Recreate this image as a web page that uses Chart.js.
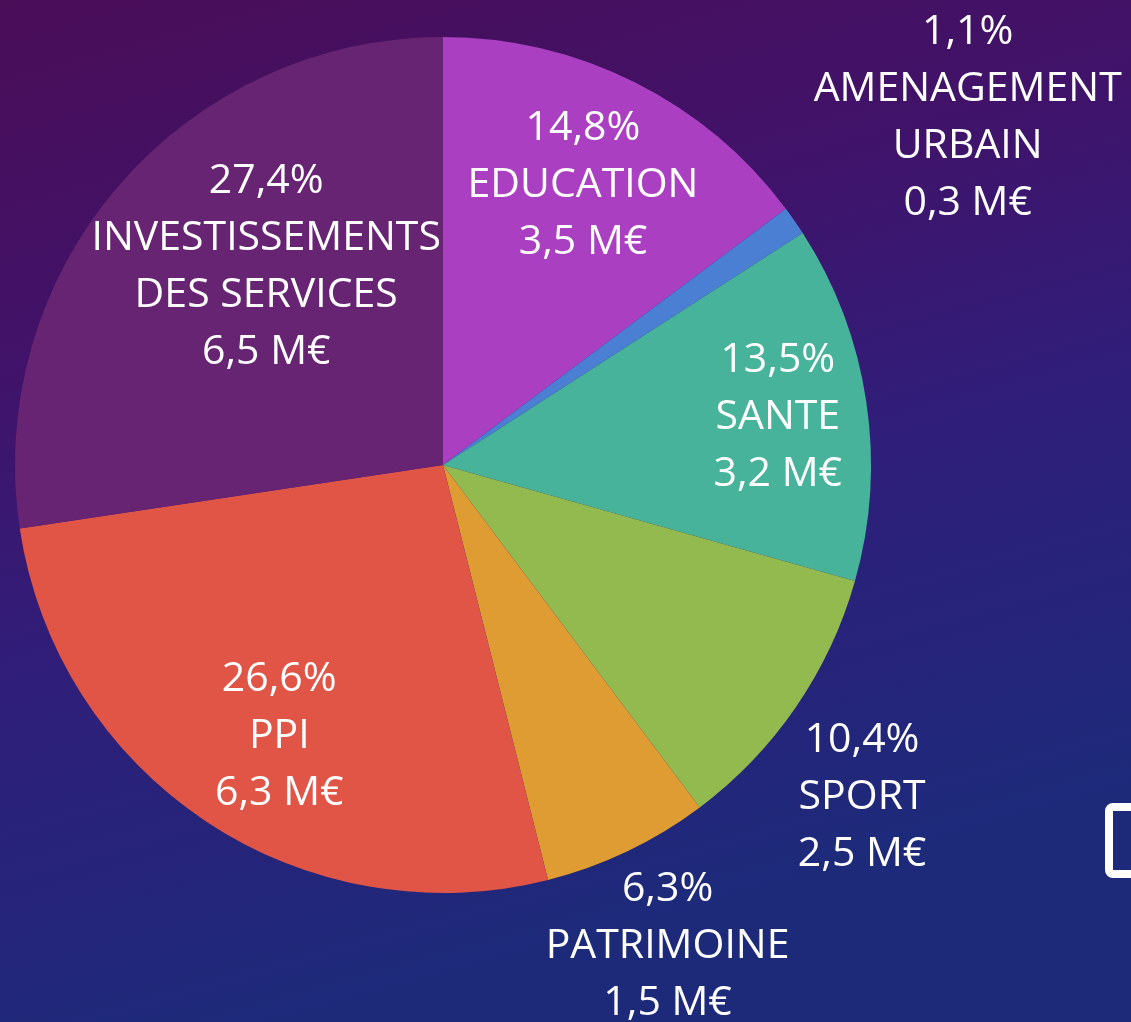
<!DOCTYPE html>
<html>
<head>
<meta charset="utf-8">
<script src="https://cdn.jsdelivr.net/npm/chart.js@4.4.1/dist/chart.umd.min.js"></script>
<style>
  html, body { margin: 0; padding: 0; background: #2a1a6e; }
  #wrap { width: 1131px; height: 1022px; }
</style>
</head>
<body>
<div id="wrap"><canvas id="pie" width="1131" height="1022"></canvas></div>
<script>
// data
const categories = [
  ["EDUCATION"],
  ["AMENAGEMENT", "URBAIN"],
  ["SANTE"],
  ["SPORT"],
  ["PATRIMOINE"],
  ["PPI"],
  ["INVESTISSEMENTS", "DES SERVICES"],
];
const shares = [14.8, 1.1, 13.5, 10.4, 6.3, 26.6, 27.4];   // %
const amounts = [3.5, 0.3, 3.2, 2.5, 1.5, 6.3, 6.5];      // M€

const sliceColors = ["#aa3fc1", "#4a7fd4", "#47b39b", "#93ba4e", "#de9c33", "#e15546", "#662473"];

// where each label sits: fraction of radius, angle nudge in degrees
const labelRadius = [0.73, 1.47, 0.79, 1.25, 1.24, 0.74, 0.62];
const labelNudge = [0, 1.3, 0.5, 4, 0.5, -2.5, 7.5];

const fmt = v => v.toFixed(1).replace(".", ",");

const bgPlugin = {
  id: "bg",
  beforeDraw(chart) {
    const { ctx, width, height } = chart;
    const g = ctx.createLinearGradient(0, 0, width * 0.25, height);
    g.addColorStop(0, "#4a0d58");
    g.addColorStop(0.35, "#40136a");
    g.addColorStop(0.62, "#2f1e7a");
    g.addColorStop(1, "#1d2a7a");
    ctx.save();
    ctx.fillStyle = g;
    ctx.fillRect(0, 0, width, height);
    // cut-off box from the slide, bottom right
    ctx.strokeStyle = "#ffffff";
    ctx.lineWidth = 8;
    ctx.beginPath();
    ctx.roundRect(1109, 807, 100, 67, 4);
    ctx.stroke();
    ctx.restore();
  }
};

const labelPlugin = {
  id: "sliceLabels",
  afterDatasetsDraw(chart) {
    const { ctx } = chart;
    const arcs = chart.getDatasetMeta(0).data;
    ctx.save();
    ctx.fillStyle = "#ffffff";
    ctx.font = "41px 'Open Sans'";
    ctx.textAlign = "center";
    ctx.textBaseline = "middle";
    const lh = 57;
    arcs.forEach((arc, i) => {
      const mid = (arc.startAngle + arc.endAngle) / 2 + labelNudge[i] * Math.PI / 180;
      const r = arc.outerRadius * labelRadius[i];
      const x = arc.x + Math.cos(mid) * r;
      const y = arc.y + Math.sin(mid) * r;
      const lines = [fmt(shares[i]) + "%", ...categories[i], fmt(amounts[i]) + " M€"];
      const top = y - (lines.length - 1) * lh / 2;
      lines.forEach((t, k) => ctx.fillText(t, x, top + k * lh));
    });
    ctx.restore();
  }
};

new Chart(document.getElementById("pie"), {
  type: "pie",
  data: {
    labels: categories.map(c => c.join(" ")),
    datasets: [{
      data: shares,
      backgroundColor: sliceColors,
      borderWidth: 0,
    }]
  },
  options: {
    responsive: false,
    animation: false,
    devicePixelRatio: 1,
    layout: { padding: { left: 15, right: 260, top: 37, bottom: 129 } },
    plugins: {
      legend: { display: false },
      tooltip: { enabled: false },
    }
  },
  plugins: [bgPlugin, labelPlugin]
});
</script>
</body>
</html>
